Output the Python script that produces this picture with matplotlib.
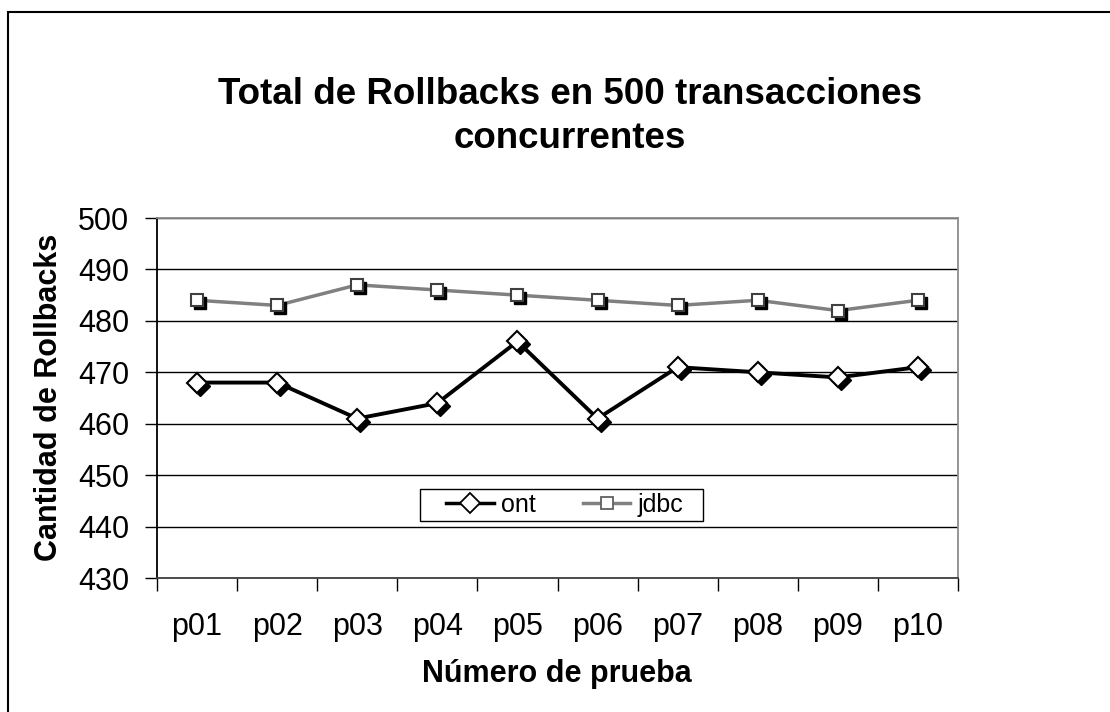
import matplotlib
matplotlib.use('Agg')
import matplotlib.pyplot as plt
from matplotlib.patches import Rectangle
from matplotlib.lines import Line2D
from matplotlib.transforms import offset_copy

# data
pruebas = ['p01', 'p02', 'p03', 'p04', 'p05', 'p06', 'p07', 'p08', 'p09', 'p10']
ont = [468, 468, 461, 464, 476, 461, 471, 470, 469, 471]
jdbc = [484, 483, 487, 486, 485, 484, 483, 484, 482, 484]
y_ticks = [430, 440, 450, 460, 470, 480, 490, 500]

plt.rcParams['font.family'] = ['Liberation Sans', 'DejaVu Sans']

W, H = 1110, 712
fig = plt.figure(figsize=(W / 100, H / 100), dpi=100)
fig.patch.set_facecolor('white')

# outer chart border (runs past the right and bottom edge)
fig.patches.append(Rectangle((8 / W, -0.2), 1.5, 1 - 12 / H + 0.2,
                             transform=fig.transFigure, fill=False,
                             edgecolor='black', linewidth=1.5))

left, right, top, bottom = 157, 958, 218, 578
ax = fig.add_axes([left / W, 1 - bottom / H, (right - left) / W, (bottom - top) / H])

x = list(range(len(pruebas)))
ax.set_xlim(-0.5, len(pruebas) - 0.5)
ax.set_ylim(y_ticks[0], y_ticks[-1])
ax.set_yticks(y_ticks)
ax.set_xticks(x)
ax.set_xticklabels(pruebas)
ax.set_xticks([i - 0.5 for i in range(len(pruebas) + 1)], minor=True)

ax.grid(axis='y', color='black', linewidth=1)
ax.set_axisbelow(True)

ax.spines['left'].set_color('black')
ax.spines['bottom'].set_color('#404040')
ax.spines['top'].set_color('#8c8c8c')
ax.spines['right'].set_color('#8c8c8c')
for s in ax.spines.values():
    s.set_linewidth(1.3)

ax.tick_params(axis='y', direction='out', length=9, width=1, pad=11, labelsize=22)
ax.tick_params(axis='x', which='major', length=0, pad=24.5, labelsize=22)
ax.tick_params(axis='x', which='minor', direction='out', length=9, width=1)

# marker shadow: same markers shifted down-right
shadow = offset_copy(ax.transData, fig=fig, x=3, y=-3, units='dots')

ax.plot(x, jdbc, color='#808080', linewidth=2.5, zorder=3)
ax.plot(x, jdbc, linestyle='none', marker='s', markersize=8.5,
        color='black', transform=shadow, zorder=4)
ax.plot(x, jdbc, linestyle='none', marker='s', markersize=8.5,
        markerfacecolor='white', markeredgecolor='#404040',
        markeredgewidth=1.5, zorder=5)

ax.plot(x, ont, color='black', linewidth=2.8, zorder=3)
ax.plot(x, ont, linestyle='none', marker='D', markersize=10,
        color='black', transform=shadow, zorder=4)
ax.plot(x, ont, linestyle='none', marker='D', markersize=10,
        markerfacecolor='white', markeredgecolor='black',
        markeredgewidth=1.5, zorder=5)

# legend box drawn separately so the inner padding can be wider than tall
fig.patches.append(Rectangle((420 / W, 1 - 521 / H), 283 / W, 32 / H,
                             transform=fig.transFigure, facecolor='white',
                             edgecolor='black', linewidth=1, zorder=10))
handles = [
    Line2D([], [], color='black', linewidth=2.5, marker='D', markersize=10,
           markerfacecolor='white', markeredgecolor='black', markeredgewidth=1.3),
    Line2D([], [], color='#808080', linewidth=2.5, marker='s', markersize=8.5,
           markerfacecolor='white', markeredgecolor='#606060', markeredgewidth=1.3),
]
leg = fig.legend(handles, ['ont', 'jdbc'], loc='center left',
                 bbox_to_anchor=(446 / W, 1 - 505 / H),
                 ncol=2, fontsize=18, frameon=False,
                 handlelength=1.9, handletextpad=0.28,
                 borderpad=0, borderaxespad=0, columnspacing=1.9)
leg.set_zorder(11)

fig.text(570 / W, 1 - 104 / H, 'Total de Rollbacks en 500 transacciones',
         ha='center', va='baseline', fontsize=26.5, fontweight='bold')
fig.text(570 / W, 1 - 148 / H, 'concurrentes',
         ha='center', va='baseline', fontsize=26.5, fontweight='bold')
fig.text(557 / W, 1 - 682 / H, 'Número de prueba',
         ha='center', va='baseline', fontsize=22, fontweight='bold')
fig.text(49 / W, 1 - 397 / H, 'Cantidad de Rollbacks', rotation=90,
         ha='center', va='center', fontsize=22, fontweight='bold')

fig.savefig('out.png', dpi=100)
